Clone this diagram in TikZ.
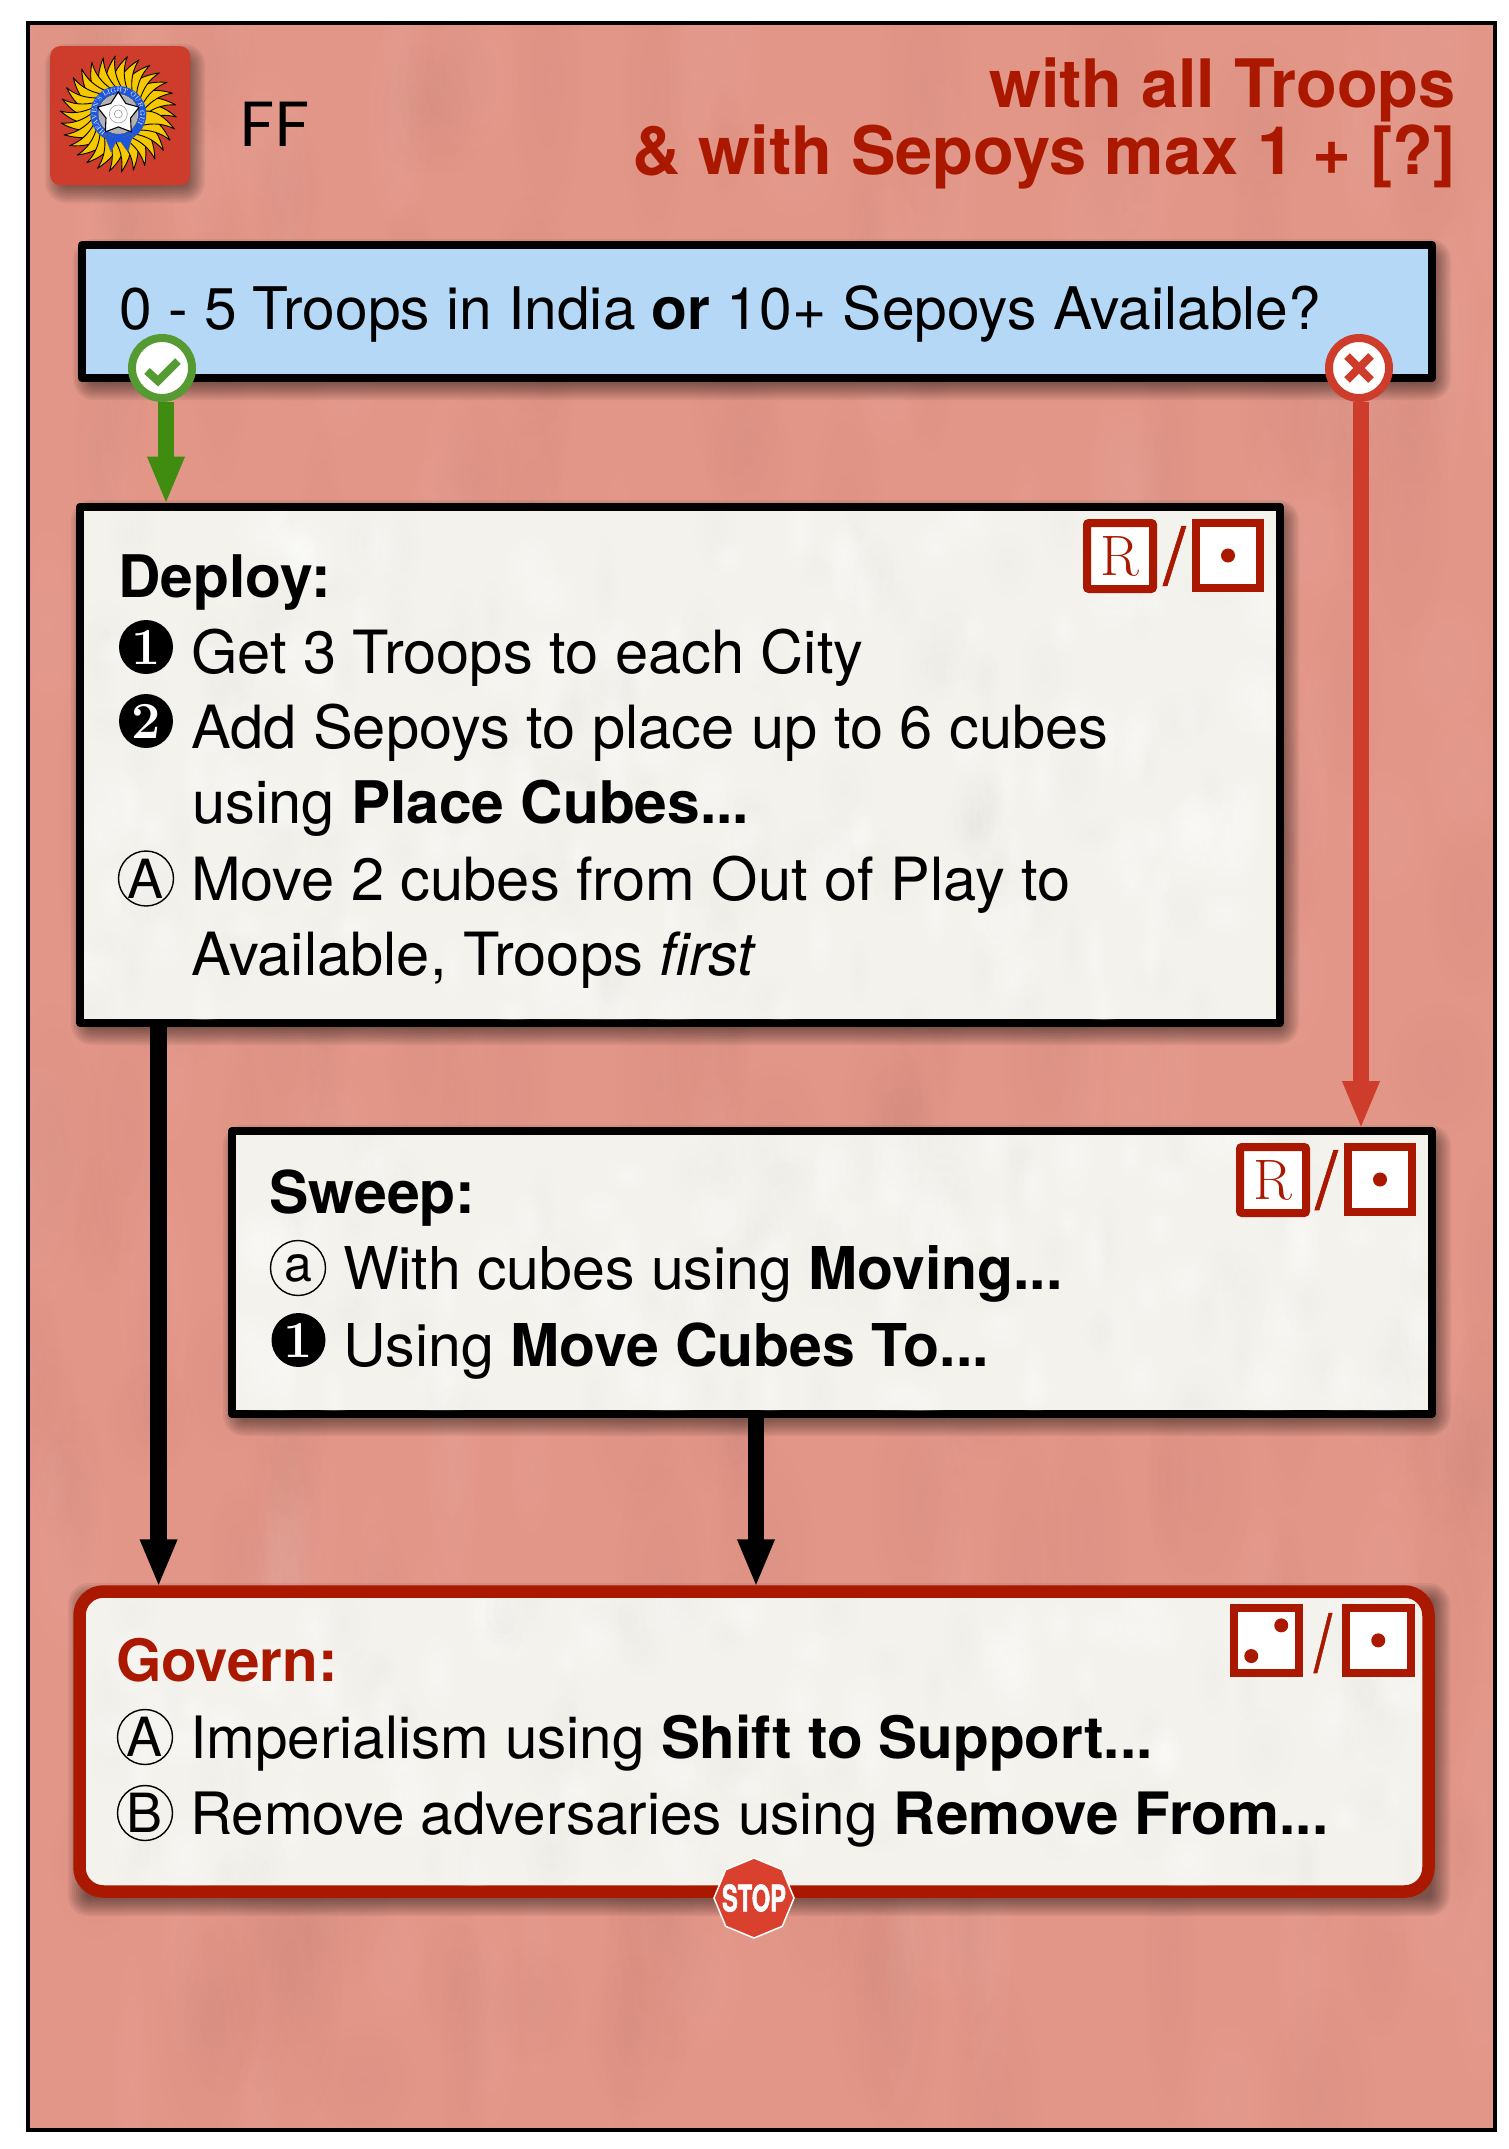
\documentclass[tikz,border=0pt]{standalone}
\usepackage{fontspec}
\usepackage{graphicx}
\setsansfont{TeX Gyre Heros}
\newfontfamily\fflabel{Lato}
\newfontfamily\stopfont[FakeBold=2]{TeX Gyre Heros}
\newfontfamily\slashfont[FakeBold=.7]{TeX Gyre Heros}
\usetikzlibrary{arrows.meta,shapes.geometric,decorations.text,fadings}
\definecolor{bgpink}{HTML}{E29688}
\definecolor{paper}{HTML}{F3F2ED}
\definecolor{skyfill}{HTML}{B5D8F7}
\definecolor{dkred}{HTML}{AA1800}
\definecolor{redarrow}{HTML}{CE3D2B}
\definecolor{grnarrow}{HTML}{3F8C10}
\definecolor{grnring}{HTML}{559A33}
\definecolor{sunyellow}{HTML}{F5C800}
\definecolor{ringblue}{HTML}{1F55D8}
\definecolor{stopred}{HTML}{D9402D}
\newcommand{\bd}[1]{{\bfseries\fontsize{58.7}{60}\selectfont #1}}
\newcommand{\softshadow}[4]{%
  \foreach \k in {0,...,9}{%
    \pgfmathsetmacro\ee{-8+2*\k}%
    \fill[black,opacity=.055,rounded corners=3+2*\k] (#1+5-\ee,#2+8-\ee) rectangle (#3+5+\ee,#4+8+\ee);
  }}
% soft cloudy texture: #5 blobs of opacity #6 (dark) and #9 (light), radii about #7 x #8
\newcommand{\mottle}[9]{%
  \begin{scope}
    \clip (#1,#2) rectangle (#3,#4);
    \foreach \i in {1,...,#5}{%
      \pgfmathsetmacro\cx{#1+rnd*(#3-#1)}%
      \pgfmathsetmacro\cy{#2+rnd*(#4-#2)}%
      \pgfmathsetmacro\rw{#7*(.5+rnd)}%
      \pgfmathsetmacro\rh{#8*(.5+rnd)}%
      \pgfmathparse{int(mod(\i,2))}%
      \ifnum\pgfmathresult=0\relax
        \fill[black,opacity=#6,path fading=fuzzy blob] (\cx-\rw,\cy-\rh) rectangle (\cx+\rw,\cy+\rh);
      \else
        \fill[white,opacity=#9,path fading=fuzzy blob] (\cx-\rw,\cy-\rh) rectangle (\cx+\rw,\cy+\rh);
      \fi
    }
  \end{scope}}
\tikzfading[name=fuzzy blob,inner color=transparent!0,outer color=transparent!100]
\tikzset{
  x=1pt,y=-1pt,
  body/.style={anchor=base west,inner sep=0pt,font=\sffamily\fontsize{#1}{60}\selectfont},
  headline/.style={anchor=base east,inner sep=0pt,text=dkred,font=\sffamily\bfseries\fontsize{66.8}{70}\selectfont},
  flowbox/.style={draw=black,line width=8pt,line join=round,fill=paper,anchor=north west,inner sep=0pt},
  govbox/.style={draw=dkred,line width=12.5pt,rounded corners=24pt,fill=paper,anchor=north west,inner sep=0pt},
  numdot/.style={circle,fill=black,text=white,minimum size=54pt,inner sep=0pt,font=\rmfamily\bfseries\fontsize{52}{52}\selectfont},
  letdot/.style={circle,draw=black,line width=1.4pt,minimum size=55pt,inner sep=0pt,font=\sffamily\fontsize{54}{54}\selectfont},
  badgebox/.style={draw=dkred,line width=8pt,fill=white,anchor=north west,inner sep=0pt,text=dkred},
  badgeslash/.style={inner sep=0pt,text=dkred,font=\slashfont\fontsize{80}{80}\selectfont},
  pip/.style={fill=dkred},
  answer/.style={circle,fill=white,line width=8pt,minimum size=60pt,inner sep=0pt},
  flowarrow/.style={line width=16.5pt,shorten >=-2pt,-{Triangle[length=48pt,width=34pt]}},
}
\begin{document}
\begin{tikzpicture}
\useasboundingbox (0,0) rectangle (1508,2149);
\fill[white] (0,0) rectangle (1508,2149);
\pgfmathsetseed{4242}
% page
\fill[bgpink] (28,23) rectangle (1495,2130);
\mottle{30}{25}{1493}{2128}{300}{.022}{40}{120}{.035}
\draw[black,line width=4pt] (28,23) rectangle (1495,2130);
% logo
\softshadow{50}{46}{190}{185}
\node[fill=redarrow,rounded corners=10pt,minimum width=140pt,minimum height=139pt,inner sep=0pt,anchor=north west] (logo) at (50,46) {};
\begin{scope}[shift={(118.3,114)}]
  \foreach \a in {0,12,...,348}{%
    \begin{scope}[rotate=\a]
      \fill[sunyellow,draw=black,line width=.9pt,line join=round]
        (24,-8) .. controls (36,-12) and (47,-6) .. (58,3)
        .. controls (47,0) and (36,1) .. (24,7) -- cycle;
    \end{scope}
  }
  \fill[ringblue] (0,0) circle (28);
  \path[postaction={decorate},decoration={text along path,text align=center,
     text={|\rmfamily\fontsize{6.6}{7}\selectfont\color{white}|HEAVEN'S LIGHT OUR GUIDE}}]
     (0,0) ++(145:22) arc[start angle=145,end angle=395,radius=22];
  \fill[white,draw=black!70,line width=.5pt] (0,0) circle (20);
  \fill[black!30] (0,0) circle (19.5);
\end{scope}
\node[star,star points=5,star point ratio=1.7,minimum size=44pt,inner sep=0pt,fill=white,draw=black,line width=1.1pt] (logostar) at (118.3,114) {};
\draw[black!45,line width=.5pt] (logostar.center) circle (4) (logostar.center) circle (9);
\fill[ringblue,draw=black!60,line width=.4pt] (118,138) -- (104,134) -- (111,152) -- cycle
     (118,138) -- (133,134) -- (128,152) -- cycle;
\fill[ringblue] (118.3,138) circle (4.5);
\node[anchor=base west,inner sep=0pt,font=\fflabel\fontsize{62}{66}\selectfont] (fflabel) at (239,146) {FF};
% headline
\node[headline] (head1) at (1456,107) {with all Troops};
\node[headline] (head2) at (1456,174) {\& with Sepoys max 1 + [?]};
% question box
\softshadow{78}{241}{1436}{382}
\node[flowbox,fill=skyfill,minimum width=1350pt,minimum height=133pt] (question) at (78,241) {};
\node[body=58.7] (qtext) at (119,329.4) {0 - 5 Troops in India \textbf{or} 10+ Sepoys Available?};
% deploy box
\softshadow{76}{502}{1284}{1027}
\node[flowbox,minimum width=1200pt,minimum height=516.5pt] (deploy) at (76,502.5) {};
\mottle{84}{511}{1276}{1019}{240}{.01}{25}{40}{.3}
\node[body=58.7,font=\sffamily\bfseries\fontsize{58.7}{60}\selectfont] (dtitle) at (118,597.4) {Deploy:};
\node[numdot] (d1) at (146,647) {1};
\node[body=59.6] (dline1) at (191,673.4) {Get 3 Troops to each City};
\node[numdot] (d2) at (146,721) {2};
\node[body=59.6] (dline2) at (191,748.4) {Add Sepoys to place up to 6 cubes};
\node[body=59.6] (dline3) at (192,823.4) {using \bd{Place Cubes...}};
\node[letdot] (da) at (146,878.5) {A};
\node[body=59.6] (dline4) at (191,900.4) {Move 2 cubes from Out of Play to};
\node[body=59.6] (dline5) at (191,975.4) {Available, Troops \textit{first}};
\node[badgebox,minimum width=66pt,minimum height=66pt,rounded corners=2pt,font=\rmfamily\fontsize{57}{57}\selectfont] (dr) at (1083,519) {R};
\node[badgeslash] (dslash) at (1174.5,556) {/};
\node[badgebox,minimum width=64pt,minimum height=65pt] (dd) at (1192,519) {};
\fill[pip] (dd.center) circle (7);
% sweep box
\softshadow{228}{1127}{1436}{1418}
\node[flowbox,minimum width=1200pt,minimum height=283pt] (sweep) at (228,1127) {};
\mottle{236}{1135}{1428}{1410}{140}{.01}{25}{40}{.3}
\node[body=59,font=\sffamily\bfseries\fontsize{59}{60}\selectfont] (stitle) at (269,1213.9) {Sweep:};
\node[letdot,font=\sffamily\fontsize{50}{50}\selectfont] (sa) at (298,1268) {a};
\node[body=59] (sline1) at (343,1289.4) {With cubes using \textbf{Moving...}};
\node[numdot] (s1) at (298.5,1340) {1};
\node[body=59] (sline2) at (343,1366.4) {Using \textbf{Move Cubes To...}};
\node[badgebox,minimum width=66pt,minimum height=66pt,rounded corners=2pt,font=\rmfamily\fontsize{57}{57}\selectfont] (sr) at (1236,1143) {R};
\node[badgeslash] (sslash) at (1326.5,1180) {/};
\node[badgebox,minimum width=64pt,minimum height=65pt] (sd) at (1344,1143) {};
\fill[pip] (sd.center) circle (7);
% govern box
\softshadow{73}{1585}{1435}{1898}
\node[govbox,minimum width=1349pt,minimum height=300pt] (govern) at (73.25,1585.25) {};
\mottle{90}{1598}{1418}{1885}{140}{.01}{25}{40}{.3}
\node[body=58.4,text=dkred,font=\sffamily\bfseries\fontsize{58.4}{60}\selectfont] (gtitle) at (116,1681.9) {Govern:};
\node[letdot] (ga) at (145,1737) {A};
\node[body=58.4] (gline1) at (190,1758.4) {Imperialism using \textbf{Shift to Support...}};
\node[letdot] (gb) at (145,1813) {B};
\node[body=58.4] (gline2) at (190,1834.4) {Remove adversaries using \textbf{Remove From...}};
\node[badgebox,minimum width=64.5pt,minimum height=64.7pt] (gt) at (1230,1604) {};
\fill[pip] ([xshift=15pt,yshift=15pt]gt.center) circle (7);
\fill[pip] ([xshift=-15pt,yshift=-15.7pt]gt.center) circle (7);
\node[badgeslash] (gslash) at (1323,1643) {\scalebox{.8}[1]{/}};
\node[badgebox,minimum width=64.5pt,minimum height=64.7pt] (gd) at (1342,1604) {};
\fill[pip] (gd.center) circle (7);
% answers
\node[answer,draw=grnring] (yes) at (162,368) {};
\node[answer,draw=redarrow] (no) at (1359,368) {};
\draw[grnring,line width=8pt] ([xshift=-15pt,yshift=-3pt]yes.center) -- ([xshift=-4pt,yshift=-13pt]yes.center) -- ([xshift=16pt,yshift=7pt]yes.center);
\draw[redarrow,line width=8pt] ([xshift=-12pt,yshift=-12pt]no.center) -- ([xshift=12pt,yshift=12pt]no.center)
     ([xshift=12pt,yshift=-12pt]no.center) -- ([xshift=-12pt,yshift=12pt]no.center);
% connectors
\draw[flowarrow,grnarrow] ([xshift=4pt]yes.south) -- ([xshift=4pt]yes.south |- deploy.north);
\draw[flowarrow,redarrow] ([xshift=2pt]no.south) -- ([xshift=2pt]no.south |- sweep.north);
\draw[flowarrow,black] ([xshift=82.6pt]deploy.south west) -- ([xshift=82.6pt]deploy.south west |- govern.north);
\draw[flowarrow,black] ([xshift=528pt]sweep.south west) -- ([xshift=528pt]sweep.south west |- govern.north);
% stop sign
\node[regular polygon,regular polygon sides=8,shape border rotate=22.5,minimum size=80pt,inner sep=0pt,fill=stopred,draw=white,line width=1.5pt] (stopsign) at (754,1898) {};
\node[inner sep=0pt,text=white] (stoptext) at (stopsign.center) {\resizebox{64pt}{27pt}{\stopfont\bfseries STOP}};
\end{tikzpicture}
\end{document}
